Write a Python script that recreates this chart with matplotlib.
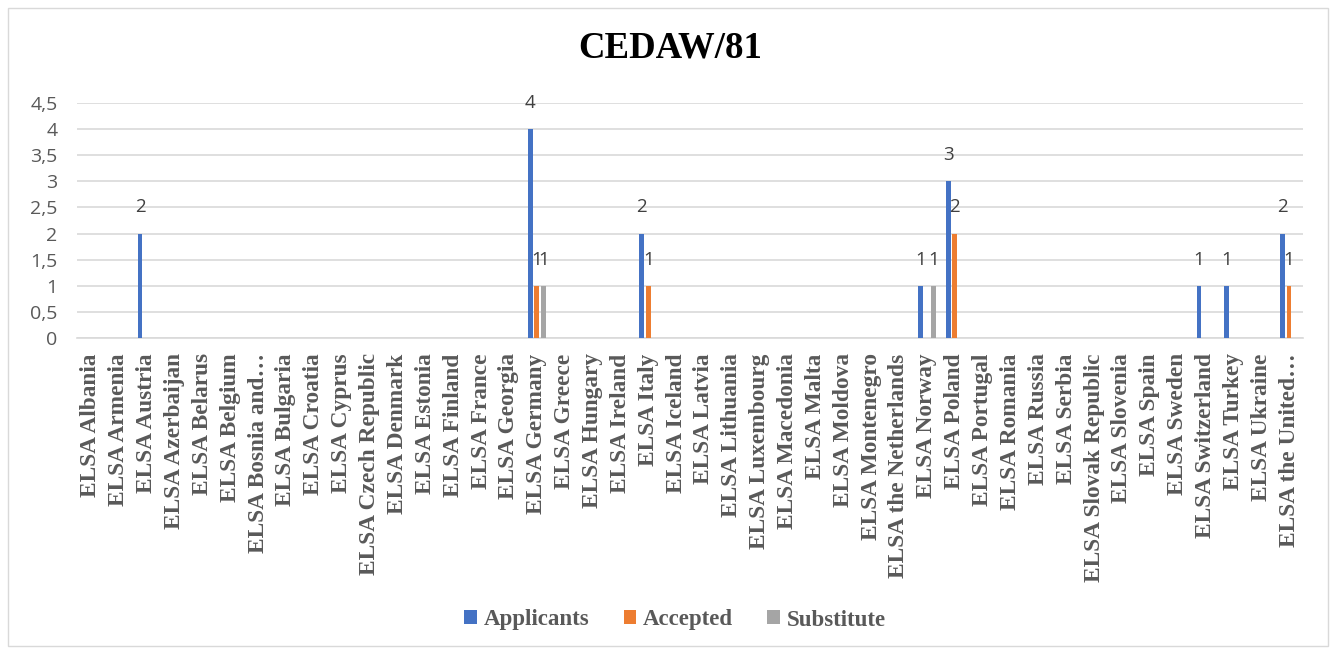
import matplotlib
matplotlib.use("Agg")
import matplotlib.pyplot as plt
import numpy as np
from matplotlib.patches import Rectangle

categories = ["ELSA Albania", "ELSA Armenia", "ELSA Austria", "ELSA Azerbaijan", "ELSA Belarus",
              "ELSA Belgium", "ELSA Bosnia and…", "ELSA Bulgaria", "ELSA Croatia", "ELSA Cyprus",
              "ELSA Czech Republic", "ELSA Denmark", "ELSA Estonia", "ELSA Finland", "ELSA France",
              "ELSA Georgia", "ELSA Germany", "ELSA Greece", "ELSA Hungary", "ELSA Ireland",
              "ELSA Italy", "ELSA Iceland", "ELSA Latvia", "ELSA Lithuania", "ELSA Luxembourg",
              "ELSA Macedonia", "ELSA Malta", "ELSA Moldova", "ELSA Montenegro",
              "ELSA the Netherlands", "ELSA Norway", "ELSA Poland", "ELSA Portugal",
              "ELSA Romania", "ELSA Russia", "ELSA Serbia", "ELSA Slovak Republic",
              "ELSA Slovenia", "ELSA Spain", "ELSA Sweden", "ELSA Switzerland", "ELSA Turkey",
              "ELSA Ukraine", "ELSA the United…"]

applicants = [0, 0, 2, 0, 0, 0, 0, 0, 0, 0, 0, 0, 0, 0, 0, 0, 4, 0, 0, 0, 2, 0, 0, 0, 0, 0, 0, 0, 0, 0,
              1, 3, 0, 0, 0, 0, 0, 0, 0, 0, 1, 1, 0, 2]
accepted = [0, 0, 0, 0, 0, 0, 0, 0, 0, 0, 0, 0, 0, 0, 0, 0, 1, 0, 0, 0, 1, 0, 0, 0, 0, 0, 0, 0, 0, 0,
            0, 2, 0, 0, 0, 0, 0, 0, 0, 0, 0, 0, 0, 1]
substitute = [0, 0, 0, 0, 0, 0, 0, 0, 0, 0, 0, 0, 0, 0, 0, 0, 1, 0, 0, 0, 0, 0, 0, 0, 0, 0, 0, 0, 0, 0,
              1, 0, 0, 0, 0, 0, 0, 0, 0, 0, 0, 0, 0, 0]
series_names = ["Applicants", "Accepted", "Substitute"]
colors = ["#4472C4", "#ED7D31", "#A5A5A5"]
yticks = [0, 0.5, 1, 1.5, 2, 2.5, 3, 3.5, 4, 4.5]
ytick_labels = ["0", "0,5", "1", "1,5", "2", "2,5", "3", "3,5", "4", "4,5"]

W, H = 1336, 654
fig = plt.figure(figsize=(W / 100, H / 100), dpi=100)
fig.patches.append(Rectangle((8 / W, 8 / H), 1 - 16 / W, 1 - 16 / H, transform=fig.transFigure,
                             fill=False, edgecolor="#D9D9D9", linewidth=1))

ax = fig.add_axes([77 / W, 1 - 338 / H, (1303 - 77) / W, (338 - 103) / H])
x = np.arange(len(categories))
bw = 0.17
step = 0.235
serif = ["Liberation Serif", "DejaVu Serif"]
sans = ["Open Sans", "DejaVu Sans"]
for k, (vals, name, c) in enumerate(zip([applicants, accepted, substitute], series_names, colors)):
    xs = x + (k - 1) * step
    ax.bar(xs, vals, width=bw, color=c, label=name, zorder=3)
    for xi, v in zip(xs, vals):
        if v:
            ax.text(xi, v + 0.5, f"{v}", ha="center", va="center", fontsize=13.5,
                    color="#404040", family=sans)

ax.set_xlim(-0.5, len(categories) - 0.5)
ax.set_ylim(0, 4.5)
ax.set_yticks(yticks)
ax.set_yticklabels(ytick_labels, family=sans, fontsize=14, color="#595959")
ax.set_xticks(x)
ax.set_xticklabels(categories, rotation=90, family=serif, fontweight="bold", fontsize=16.8,
                   color="#595959")
ax.tick_params(axis="both", length=0)
ax.tick_params(axis="x", pad=11)
ax.tick_params(axis="y", pad=14)
ax.grid(axis="y", color="#D9D9D9", linewidth=1.2, zorder=0)
for s in ["top", "right", "left"]:
    ax.spines[s].set_visible(False)
ax.spines["bottom"].set_color("#D9D9D9")
ax.spines["bottom"].set_linewidth(1.2)

fig.text(670 / W, 1 - 48 / H, "CEDAW/81", ha="center", va="center", family=serif,
         fontweight="bold", fontsize=26.5, color="black")

leg = fig.legend(loc="center", bbox_to_anchor=(675 / W, 1 - 620 / H), ncol=3, frameon=False,
                 prop={"family": serif, "weight": "bold", "size": 16.5},
                 handlelength=0.55, handleheight=0.55, handletextpad=0.3, columnspacing=1.5)
for t in leg.get_texts():
    t.set_color("#595959")

fig.savefig("out.png", dpi=100)
